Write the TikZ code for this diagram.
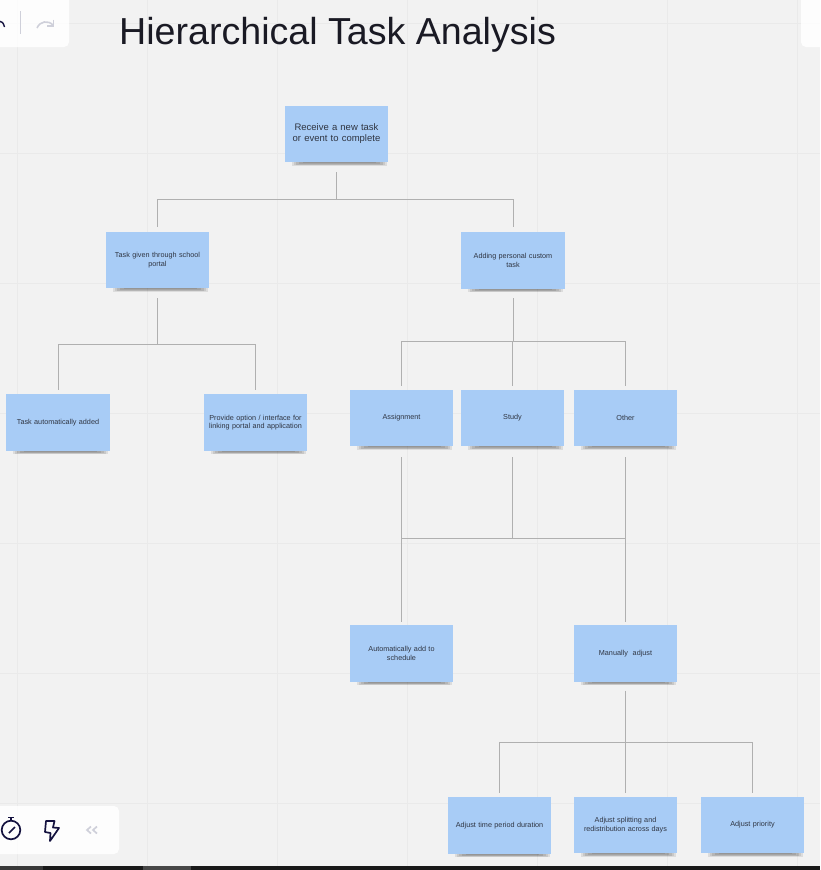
\documentclass[tikz,border=0pt]{standalone}
\usepackage{fontspec}
\setmainfont{Liberation Sans}
\definecolor{bgc}{HTML}{F2F2F2}
\definecolor{gridc}{HTML}{EAEAEA}
\definecolor{notec}{HTML}{A8CCF6}
\definecolor{inkc}{HTML}{2F3542}
\definecolor{linec}{HTML}{B0B0B0}
\definecolor{iconc}{HTML}{14123F}
\definecolor{faintc}{HTML}{CFD0DA}
\definecolor{titlec}{HTML}{1A1A24}
\tikzset{
  gridline/.style={draw=gridc,line width=1pt},
  panel/.style={fill=white,fill opacity=.85,rounded corners=5pt},
  sticky/.style={fill=notec,inner sep=0pt,minimum width=103.6pt,minimum height=56.5pt,
    text width=100pt,align=center,text=inkc,font=\fontsize{7.25}{8.5}\selectfont},
  bigsticky/.style={sticky,font=\fontsize{9.5}{11}\selectfont},
  conn/.style={draw=linec,line width=.9pt},
  icon/.style={draw=iconc,line width=1.7pt},
}
\begin{document}
\begin{tikzpicture}[x=1pt,y=-1pt]
\useasboundingbox (0,0) rectangle (820,870);
\clip (0,0) rectangle (820,870);
\fill[bgc] (0,0) rectangle (820,870);
% grid
\foreach \gx in {17,147,277,407,537,667,797} \draw[gridline] (\gx,0) -- (\gx,870);
\foreach \gy in {23,153,283,413,543,673,803} \draw[gridline] (0,\gy) -- (820,\gy);
% title
\node[anchor=base west,inner sep=0pt,text=titlec,font=\fontsize{37.6}{44}\selectfont] (title) at (119,44) {Hierarchical Task Analysis};
% soft shadows below each note
\foreach \nm/\cx/\cy in {n1/336.5/134,n2/157.5/260,n3/513/260.5,n4/58/422.5,n5/255.5/422.5,n6/401.5/418,n7/512.5/418,n8/625.5/418,n9/401.5/653.5,n10/625.5/653.5,n11/499.5/825.5,n12/625.5/825,n13/752.5/825}{%
  \coordinate (\nm c) at (\cx,\cy);
  \foreach \sa/\sb/\sc in {7/2/3.8,9/4/3.2,11/6/2.6,14/9/2,18/13/1.4}{%
    \fill[black,opacity=.09] ([shift={(-52+\sa,28)}]\nm c) rectangle ([shift={(52-\sb,28+\sc)}]\nm c);}
}
\node[bigsticky] (n1) at (n1c) {Receive a new task\\or event to complete};
\node[sticky] (n2) at (n2c) {Task given through school\\portal};
\node[sticky] (n3) at (n3c) {Adding personal custom\\task};
\node[sticky] (n4) at (n4c) {Task automatically added};
\node[sticky] (n5) at (n5c) {Provide option / interface for\\linking portal and application};
\node[sticky] (n6) at (n6c) {Assignment};
\node[sticky] (n7) at (n7c) {Study};
\node[sticky] (n8) at (n8c) {Other};
\node[sticky] (n9) at (n9c) {Automatically add to\\schedule};
\node[sticky] (n10) at (n10c) {Manually~ adjust};
\node[sticky] (n11) at (n11c) {Adjust time period duration};
\node[sticky] (n12) at (n12c) {Adjust splitting and\\redistribution across days};
\node[sticky] (n13) at (n13c) {Adjust priority};
% junctions
\coordinate (j1) at (336.5,199.5);
\coordinate (j2) at (157.5,344.5);
\coordinate (j3) at (513,341.5);
\coordinate (j4) at (512.5,538.5);
\coordinate (j5) at (625.5,742.5);
% connectors
\draw[conn] ([yshift=-10pt]n1.south) -- (j1);
\draw[conn] (j1) -| ([yshift=5pt]n2.north);
\draw[conn] (j1) -| ([yshift=5pt]n3.north);
\draw[conn] ([yshift=-10pt]n2.south) -- (j2);
\draw[conn] (j2) -| ([yshift=4pt]n4.north);
\draw[conn] (j2) -| ([yshift=4pt]n5.north);
\draw[conn] ([yshift=-9.5pt]n3.south) -- (j3);
\draw[conn] (j3) -| ([yshift=4pt]n6.north);
\draw[conn] (j3) -| ([yshift=4pt]n7.north);
\draw[conn] (j3) -| ([yshift=4pt]n8.north);
\draw[conn] ([yshift=-11pt]n7.south) -- (j4);
\draw[conn] ([yshift=-11pt]n6.south) -- ([yshift=3.5pt]n9.north);
\draw[conn] ([yshift=-11pt]n8.south) -- ([yshift=3.5pt]n10.north);
\draw[conn] (j4) -| ([yshift=3.5pt]n9.north);
\draw[conn] (j4) -| ([yshift=3.5pt]n10.north);
\draw[conn] ([yshift=-9pt]n10.south) -- (j5);
\draw[conn] (j5) -| ([yshift=4pt]n11.north);
\draw[conn] (j5) -- ([yshift=3.5pt]n12.north);
\draw[conn] (j5) -| ([yshift=3.5pt]n13.north);
% toolbars
\fill[panel] (-10,-10) rectangle (69,47);
\fill[panel] (801,-10) rectangle (830,47);
\fill[panel] (-10,806) rectangle (119,854);
\draw[faintc,line width=.8pt] (20.5,11) -- (20.5,34);
\draw[iconc,line width=1.4pt] (-1,21) .. controls (2,21) and (3.5,23) .. (4.5,27);
\draw[faintc,line width=1.6pt] (37,28) .. controls (40,21) and (48,20) .. (53,25);
\draw[faintc,line width=1.6pt] (53.5,19.5) -- (53.5,26) -- (47,26);
\draw[icon] (11,830) circle (9.3);
\draw[icon] (8,817.5) -- (14,817.5) (11,817.5) -- (11,820.5);
\draw[icon] (9,833) -- (15,827);
\draw[icon,line join=round] (46,821) -- (54.5,821) -- (53,827.5) -- (59,828) -- (50,841) -- (50.5,833) -- (45,832) -- cycle;
\draw[faintc,line width=1.7pt] (91,826.5) -- (87,830) -- (91,833.5) (97,826.5) -- (93,830) -- (97,833.5);
% window bar
\fill[black!90] (0,866) rectangle (820,870);
\fill[black!78] (0,866) rectangle (43,870);
\fill[black!72] (143,866) rectangle (191,870);
\end{tikzpicture}
\end{document}
